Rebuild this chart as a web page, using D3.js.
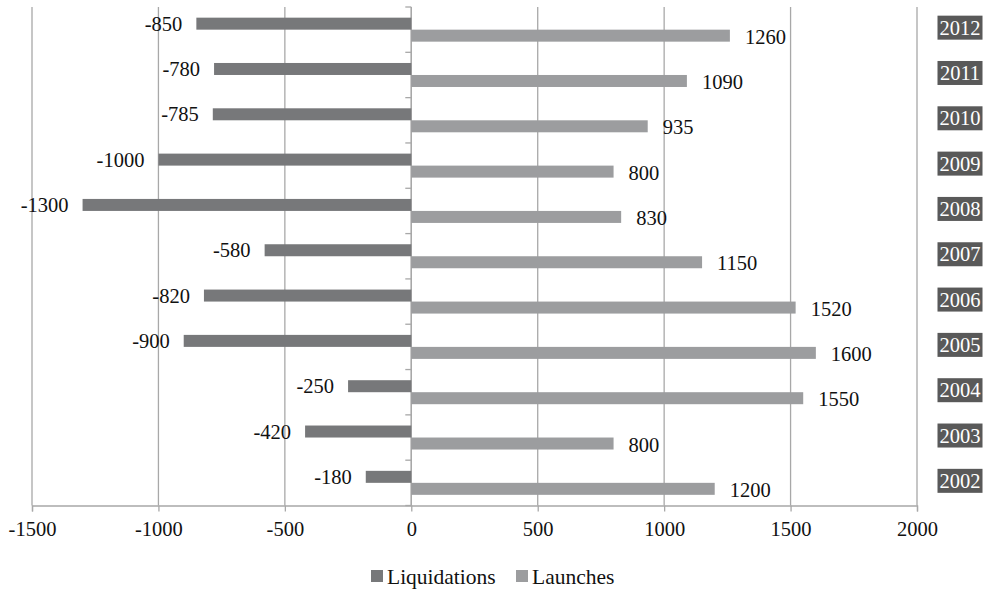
<!DOCTYPE html>
<html><head><meta charset="utf-8">
<script src="https://cdn.jsdelivr.net/npm/d3@7"></script>
<style>body{margin:0;background:#fff}svg{display:block}</style>
</head><body><svg id="c" width="990" height="592"></svg>
<script>
const years = ["2012","2011","2010","2009","2008","2007","2006","2005","2004","2003","2002"];
const liquidations = [-850,-780,-785,-1000,-1300,-580,-820,-900,-250,-420,-180];
const launches = [1260,1090,935,800,830,1150,1520,1600,1550,800,1200];
const xTicks = [-1500,-1000,-500,0,500,1000,1500,2000];
const seriesNames = ["Liquidations","Launches"];
const colors = ["#77787a","#9c9d9f"];

const svg = d3.select("#c");
const font = "'Liberation Serif','Times New Roman',serif";
const pL = 32, pR = 917, pT = 7, pB = 505.5;
const x = d3.scaleLinear().domain([-1500,2000]).range([pL,pR]);
const y = d3.scaleBand().domain(years).range([pT,pB]);
const barH = 12;

// grid
svg.append("g").selectAll("line").data(xTicks).join("line")
  .attr("x1",d=>x(d)).attr("x2",d=>x(d)).attr("y1",pT).attr("y2",pB)
  .attr("stroke","#a8a8a8").attr("stroke-width",1.3);

// bottom axis
const xa = svg.append("g").attr("transform",`translate(0,${pB})`)
  .call(d3.axisBottom(x).tickValues(xTicks).tickSize(6).tickPadding(10).tickFormat(d3.format("d")));
xa.select(".domain").attr("stroke","#a8a8a8").attr("stroke-width",1.3);
xa.selectAll(".tick line").attr("stroke","#a8a8a8").attr("stroke-width",1.3);
xa.selectAll("text").attr("font-family",font).attr("font-size",20.5).attr("fill","#111")
  .text(d=>d<0?"-"+Math.abs(d):d);

// zero axis with category ticks
const za = svg.append("g").attr("transform",`translate(${x(0)},0)`);
za.append("line").attr("y1",pT).attr("y2",pB).attr("stroke","#a8a8a8").attr("stroke-width",1.3);
za.selectAll("line.t").data(d3.range(years.length+1)).join("line").attr("class","t")
  .attr("x1",-6).attr("x2",0).attr("y1",i=>pT+i*y.step()).attr("y2",i=>pT+i*y.step())
  .attr("stroke","#a8a8a8").attr("stroke-width",1.3);

const c = i => y(years[i]) + y.bandwidth()/2;

// bars
svg.append("g").selectAll("rect").data(liquidations).join("rect")
  .attr("x",d=>x(d)).attr("width",d=>x(0)-x(d))
  .attr("y",(d,i)=>c(i)-barH).attr("height",barH).attr("fill",colors[0]);
svg.append("g").selectAll("rect").data(launches).join("rect")
  .attr("x",x(0)).attr("width",d=>x(d)-x(0))
  .attr("y",(d,i)=>c(i)).attr("height",barH).attr("fill",colors[1]);

// labels
svg.append("g").selectAll("text").data(liquidations).join("text")
  .attr("x",d=>x(d)-14).attr("y",(d,i)=>c(i)-barH/2).attr("dy","0.35em")
  .attr("text-anchor","end").attr("font-family",font).attr("font-size",20.5).attr("fill","#111")
  .text(d=>"-"+Math.abs(d));
svg.append("g").selectAll("text").data(launches).join("text")
  .attr("x",d=>x(d)+15).attr("y",(d,i)=>c(i)+barH/2+1).attr("dy","0.35em")
  .attr("font-family",font).attr("font-size",20.5).attr("fill","#111")
  .text(d=>d);

// year boxes
const yb = svg.append("g").selectAll("g").data(years).join("g")
  .attr("transform",(d,i)=>`translate(960,${c(i)-2})`);
yb.append("rect").attr("x",-22.5).attr("y",-12).attr("width",45).attr("height",24).attr("fill","#595959");
yb.append("text").attr("text-anchor","middle").attr("dy","0.35em")
  .attr("font-family",font).attr("font-size",20.5).attr("fill","#fff").text(d=>d);

// legend
const lg = svg.append("g").attr("transform","translate(0,576)");
const lx = [371, 516];
seriesNames.forEach((n,i)=>{
  lg.append("rect").attr("x",lx[i]).attr("y",-6).attr("width",12).attr("height",12).attr("fill",colors[i]);
  lg.append("text").attr("x",lx[i]+16).attr("dy","0.35em").attr("font-family",font)
    .attr("font-size",21.5).attr("fill","#111").text(n);
});
</script></body></html>
